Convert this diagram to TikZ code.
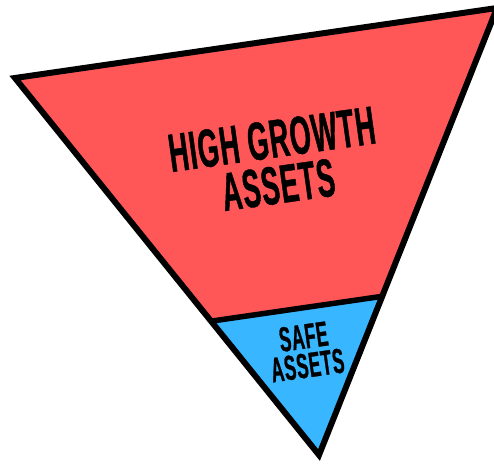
\documentclass[tikz,border=0pt]{standalone}
\usepackage{xcolor}
\usepackage{fontspec}
\usepackage{tikz}
\usetikzlibrary{calc}
\newfontfamily\posterfont[FakeStretch=0.5,FakeBold=0.8,LetterSpace=2]{Liberation Sans}
\definecolor{growthred}{HTML}{FF5757}
\definecolor{safeblue}{HTML}{38B6FF}

\begin{document}
\begin{tikzpicture}[x=1pt,y=-1pt]
\useasboundingbox (0,0) rectangle (494,465);
\coordinate (tl) at (15,78);
\coordinate (tr) at (497,8);
\coordinate (bot) at (319,455);
\coordinate (dl) at ($(tl)!0.645!(bot)$);
\coordinate (dr) at ($(tr)!0.645!(bot)$);
\fill[growthred] (tl) -- (tr) -- (dr) -- (dl) -- cycle;
\fill[safeblue] (dl) -- (dr) -- (bot) -- cycle;
\draw[black, line width=5.5pt] (dl) -- (dr);
\draw[black, line width=6pt, miter limit=20] (tl) -- (tr) -- (bot) -- cycle;
\node[rotate=8, align=center, inner sep=0pt, font=\posterfont\bfseries\fontsize{54}{46}\selectfont] (growth) at (275,162) {HIGH GROWTH\\ASSETS};
\node[rotate=8, align=center, inner sep=0pt, font=\posterfont\bfseries\fontsize{35}{29}\selectfont] (safe) at (305.5,351) {SAFE\\ASSETS};
\end{tikzpicture}
\end{document}
